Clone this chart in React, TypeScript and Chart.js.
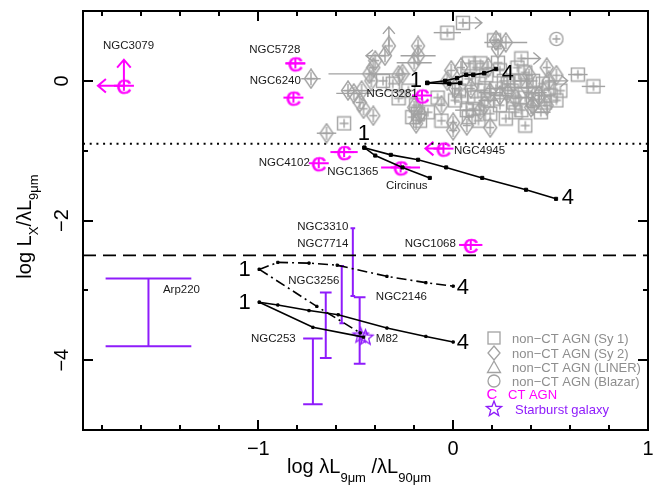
import React, { useEffect, useRef } from 'react';
import { Chart, registerables } from 'chart.js';

Chart.register(...registerables);

// ---------- axes ----------
const xRange = [-1.9, 1];
const yRange = [-5, 1];
const xMajorTicks = [-1, 0, 1];
const xMajorLabels = ['−1', '0', '1'];
const xMinorTicks = [-1.8, -1.6, -1.4, -1.2, -0.8, -0.6, -0.4, -0.2, 0.2, 0.4, 0.6, 0.8];
const yMajorTicks = [-4, -2, 0];
const yMajorLabels = ['−4', '−2', '0'];
const yMinorTicks = [-3, -1];

// ---------- reference lines ----------
const dottedLineY = -0.9;
const dashedLineY = -2.5;

// ---------- non-CT AGN (Sy 1) ----------
const sy1X = [0.05, -0.03, -0.36, -0.31, -0.56, -0.19, -0.18, -0.21, -0.17, -0.08, -0.28, -0.23, -0.13, 0.12, 0.33, 0.08, 0.13, 0.16, 0.11, 0.07, 0.08, 0.26, 0.31, 0.35, 0.41, 0.46, 0.24, 0.31, 0.37, 0.41, 0.37, 0.10, 0.21, 0.35, 0.64, 0.72, 0.50, 0.47, 0.08, 0.14, 0.23, 0.28, 0.18, 0.03, -0.06, 0.01, 0.55, 0.17, 0.22, 0.30, 0.35, 0.42, 0.49, 0.19, 0.13, 0.27, 0.32, 0.04, 0.45, 0.53, 0.24, 0.37];
const sy1Y = [0.83, 0.69, 0.00, -0.04, -0.61, -0.35, -0.47, -0.52, -0.57, -0.24, -0.25, -0.14, -0.45, 0.19, 0.19, 0.03, -0.04, -0.14, -0.24, -0.42, -0.52, 0.00, 0.00, 0.00, 0.00, -0.04, -0.35, -0.31, -0.24, -0.28, -0.64, -0.40, 0.58, 0.32, 0.09, -0.08, -0.21, -0.31, 0.25, 0.25, 0.26, -0.04, -0.28, -0.14, -0.57, -0.28, -0.14, 0.08, -0.11, -0.14, -0.42, -0.17, -0.11, -0.47, -0.57, -0.54, -0.45, -0.21, -0.45, -0.28, 0.15, 0.12];
const sy1Xerr = [0, 0.07, 0, 0, 0, 0, 0, 0, 0, 0, 0, 0, 0, 0, 0, 0, 0, 0, 0, 0.06, 0, 0, 0, 0.04, 0, 0, 0, 0, 0.05, 0, 0, 0, 0, 0, 0.05, 0.06, 0, 0, 0, 0, 0, 0, 0.05, 0, 0, 0, 0, 0, 0.05, 0, 0, 0.06, 0, 0, 0, 0, 0, 0, 0.05, 0, 0, 0];
const sy1Limit = ['r', '', '', '', '', '', '', '', '', '', '', '', '', '', '', '', '', '', '', '', '', '', '', '', '', '', '', '', '', '', '', '', '', 'r', '', '', '', '', '', '', '', '', '', '', '', '', '', '', '', '', '', '', '', '', '', '', '', '', '', '', '', ''];

// ---------- non-CT AGN (Sy 2) ----------
const sy2X = [-0.33, -0.35, -0.18, -0.18, -0.20, -0.40, -0.41, -0.43, -0.42, -0.28, -0.26, -0.54, -0.51, -0.48, -0.46, -0.73, -0.65, -0.20, -0.17, -0.19, 0.00, 0.00, 0.04, 0.18, 0.39, 0.01, -0.03, 0.19, 0.28, 0.38, 0.40, 0.19, 0.27, 0.23, 0.48, 0.49, 0.41, -0.01, 0.22, -0.41, -0.47, -0.06, 0.14, 0.09, 0.24, 0.32, 0.44, 0.48, 0.16, 0.07, 0.53];
const sy2Y = [0.50, 0.36, 0.50, 0.36, 0.26, 0.29, 0.19, 0.10, 0.00, 0.08, 0.10, -0.14, -0.18, -0.31, -0.40, 0.03, -0.75, -0.38, -0.47, -0.61, -0.60, -0.71, 0.19, 0.19, 0.08, -0.11, 0.00, -0.17, -0.18, -0.10, -0.38, -0.67, 0.55, 0.46, 0.19, 0.00, -0.35, 0.15, 0.58, -0.50, -0.14, -0.35, -0.42, -0.11, -0.21, -0.25, -0.21, -0.35, -0.35, -0.64, 0.08];
const sy2Xerr = [0, 0, 0, 0.09, 0.09, 0, 0, 0.21, 0, 0, 0, 0, 0.09, 0, 0, 0.05, 0.05, 0, 0, 0, 0, 0, 0, 0, 0, 0, 0, 0.06, 0, 0.07, 0, 0, 0.11, 0, 0, 0, 0, 0, 0, 0, 0.10, 0, 0, 0, 0.05, 0, 0, 0, 0, 0, 0];
const sy2Limit = ['u', 'l', '', '', '', '', '', '', '', '', '', '', '', '', '', '', '', '', '', '', '', '', '', '', '', '', '', '', '', '', '', '', '', '', '', 'r', '', '', '', '', '', '', '', '', '', '', '', '', '', '', ''];

// ---------- non-CT AGN (Blazar) ----------
const blzX = [0.53];
const blzY = [0.60];

// ---------- CT AGN ----------
const ctNames = ['NGC3079', 'NGC5728', 'NGC6240', 'NGC4102', 'NGC1365', 'Circinus', 'NGC4945', 'NGC3281', 'NGC1068'];
const ctX = [-1.69, -0.81, -0.82, -0.69, -0.56, -0.27, -0.05, -0.16, 0.09];
const ctY = [-0.07, 0.25, -0.24, -1.18, -1.02, -1.24, -0.97, -0.21, -2.35];
const ctXerr = [0, 0.05, 0, 0, 0.07, 0.10, 0, 0, 0.06];
const ctLimit = ['lu', '', '', '', '', '', 'l', '', ''];

// ---------- Starburst galaxies ----------
const sbNames = ['Arp220', 'NGC253', 'NGC3256', 'NGC3310', 'NGC7714', 'NGC2146'];
const sbX = [-1.564, -0.72, -0.654, -0.515, -0.572, -0.48];
const sbYLow = [-3.80, -4.63, -3.97, -3.08, -3.47, -4.05];
const sbYHigh = [-2.83, -3.69, -3.03, -2.11, -2.65, -3.10];
const sbXerr = [0.22, 0.05, 0.03, 0.012, 0.012, 0.03];
const starX = [-0.475, -0.45];
const starY = [-3.64, -3.67];

// ---------- model tracks ----------
const trackA1X = [-0.133, -0.02, 0.036];
const trackA1Y = [-0.03, -0.04, -0.03];
const trackA2X = [-0.133, -0.041, 0.02, 0.067, 0.103, 0.159, 0.22];
const trackA2Y = [-0.03, 0.0, 0.04, 0.086, 0.086, 0.11, 0.17];
const trackB1X = [-0.456, -0.40, -0.26, -0.12];
const trackB1Y = [-0.957, -1.07, -1.24, -1.39];
const trackB2X = [-0.456, -0.32, -0.18, -0.036, 0.149, 0.374, 0.528];
const trackB2Y = [-0.957, -1.06, -1.13, -1.24, -1.39, -1.56, -1.69];
const trackC1X = [-0.995, -0.90, -0.74, -0.595, -0.34, -0.14, 0.0];
const trackC1Y = [-2.70, -2.60, -2.61, -2.64, -2.80, -2.89, -2.94];
const trackC2X = [-0.995, -0.70, -0.477];
const trackC2Y = [-2.70, -3.23, -3.61];
const trackD1X = [-0.995, -0.90, -0.74, -0.59, -0.34, -0.14, 0.0];
const trackD1Y = [-3.17, -3.21, -3.29, -3.35, -3.54, -3.66, -3.74];
const trackD2X = [-0.995, -0.72, -0.46];
const trackD2Y = [-3.17, -3.53, -3.67];

// ---------- annotations ----------
const labelText = ['NGC3079', 'NGC5728', 'NGC6240', 'NGC4102', 'NGC1365', 'Circinus', 'NGC4945', 'NGC3281', 'NGC1068', 'NGC3310', 'NGC7714', 'NGC3256', 'NGC2146', 'Arp220', 'NGC253', 'M82'];
const labelX = [-1.666, -0.916, -0.782, -0.736, -0.515, -0.238, 0.004, -0.182, 0.014, -0.669, -0.669, -0.715, -0.397, -1.49, -0.808, -0.397];
const labelY = [0.504, 0.447, 0.0, -1.167, -1.296, -1.50, -0.996, -0.18, -2.34, -2.096, -2.34, -2.867, -3.096, -2.996, -3.696, -3.696];
const labelAlign = ['center', 'center', 'right', 'right', 'center', 'center', 'left', 'right', 'right', 'center', 'center', 'center', 'left', 'left', 'right', 'left'];

const trackLabelText = ['1', '4', '1', '4', '1', '1', '4', '4'];
const trackLabelX = [-0.192, 0.281, -0.459, 0.589, -1.07, -1.07, 0.05, 0.05];
const trackLabelY = [0.019, 0.119, -0.753, -1.667, -2.69, -3.167, -2.95, -3.74];

const legendLabels = ['non−CT AGN (Sy 1)', 'non−CT AGN (Sy 2)', 'non−CT AGN (LINER)', 'non−CT AGN (Blazar)', 'CT AGN', 'Starburst galaxy'];

// ---------- styles ----------
const GRAY = '#a2a2a2';
const MAGENTA = '#ff00ff';
const PURPLE = '#8f1cfb';
const FONT = '"Liberation Sans", Arial, Helvetica, sans-serif';

const pts = (xs: number[], ys: number[]) => xs.map((x, i) => ({ x, y: ys[i] }));

function mk(w: number, h: number, draw: (c: CanvasRenderingContext2D) => void) {
  const c = document.createElement('canvas');
  c.width = w;
  c.height = h;
  const ctx = c.getContext('2d')!;
  draw(ctx);
  return c;
}

function starPath(ctx: CanvasRenderingContext2D, cx: number, cy: number, ro: number, ri: number) {
  ctx.beginPath();
  for (let i = 0; i < 10; i++) {
    const r = i % 2 === 0 ? ro : ri;
    const a = -Math.PI / 2 + (i * Math.PI) / 5;
    const px = cx + r * Math.cos(a);
    const py = cy + r * Math.sin(a);
    if (i === 0) ctx.moveTo(px, py);
    else ctx.lineTo(px, py);
  }
  ctx.closePath();
}

function arrow(ctx: CanvasRenderingContext2D, x: number, y: number, dir: string, len: number, head: number) {
  const dx = dir === 'r' ? 1 : dir === 'l' ? -1 : 0;
  const dy = dir === 'u' ? -1 : dir === 'd' ? 1 : 0;
  const tx = x + dx * len;
  const ty = y + dy * len;
  const bx = tx - dx * head;
  const by = ty - dy * head;
  const ox = -dy * head * 0.85;
  const oy = dx * head * 0.85;
  ctx.beginPath();
  ctx.moveTo(x, y);
  ctx.lineTo(tx, ty);
  ctx.moveTo(bx + ox, by + oy);
  ctx.lineTo(tx, ty);
  ctx.lineTo(bx - ox, by - oy);
  ctx.stroke();
}

function drawRich(
  ctx: CanvasRenderingContext2D,
  parts: [string, boolean][],
  x: number,
  y: number,
  mainFont: string,
  subFont: string,
  subShift: number
) {
  ctx.textAlign = 'left';
  ctx.textBaseline = 'alphabetic';
  let total = 0;
  const widths = parts.map(([t, sub]) => {
    ctx.font = sub ? subFont : mainFont;
    const w = ctx.measureText(t).width;
    total += w;
    return w;
  });
  let cx = x - total / 2;
  parts.forEach(([t, sub], i) => {
    ctx.font = sub ? subFont : mainFont;
    ctx.fillText(t, cx, sub ? y + subShift : y);
    cx += widths[i];
  });
}

export default function App() {
  const ref = useRef<HTMLCanvasElement>(null);

  useEffect(() => {
    const canvas = ref.current!;

    const squareImg = mk(16, 16, (c) => {
      c.strokeStyle = GRAY;
      c.lineWidth = 1.4;
      c.strokeRect(1.5, 1.5, 13, 13);
      c.beginPath();
      c.moveTo(8, 3.5);
      c.lineTo(8, 12.5);
      c.moveTo(3.5, 8);
      c.lineTo(12.5, 8);
      c.stroke();
    });
    const diamondImg = mk(16, 21, (c) => {
      c.strokeStyle = GRAY;
      c.lineWidth = 1.4;
      c.beginPath();
      c.moveTo(8, 1);
      c.lineTo(14.5, 10.5);
      c.lineTo(8, 20);
      c.lineTo(1.5, 10.5);
      c.closePath();
      c.moveTo(8, 4);
      c.lineTo(8, 17);
      c.moveTo(4, 10.5);
      c.lineTo(12, 10.5);
      c.stroke();
    });
    const circleImg = mk(16, 16, (c) => {
      c.strokeStyle = GRAY;
      c.lineWidth = 1.4;
      c.beginPath();
      c.arc(8, 8, 6.6, 0, Math.PI * 2);
      c.moveTo(8, 4);
      c.lineTo(8, 12);
      c.moveTo(4, 8);
      c.lineTo(12, 8);
      c.stroke();
    });
    const cImg = mk(26, 22, (c) => {
      c.fillStyle = MAGENTA;
      c.strokeStyle = MAGENTA;
      c.font = '21px ' + FONT;
      c.textAlign = 'center';
      c.textBaseline = 'alphabetic';
      c.fillText('C', 13, 18.5);
      c.lineWidth = 0.6;
      c.strokeText('C', 13, 18.5);
      c.lineWidth = 2;
      c.beginPath();
      c.moveTo(3, 11);
      c.lineTo(23, 11);
      c.moveTo(13, 6);
      c.lineTo(13, 16);
      c.stroke();
    });
    const starImg = mk(19, 19, (c) => {
      c.strokeStyle = PURPLE;
      c.lineWidth = 1.3;
      starPath(c, 9.5, 10, 8, 3.4);
      c.stroke();
    });

    const custom = {
      id: 'custom',
      beforeDatasetsDraw(chart: any) {
        const { ctx, chartArea: a } = chart;
        const xs = chart.scales.x;
        const ys = chart.scales.y;
        ctx.save();
        ctx.beginPath();
        ctx.rect(a.left, a.top, a.right - a.left, a.bottom - a.top);
        ctx.clip();
        ctx.lineCap = 'butt';

        // gray x error bars + limit arrows
        ctx.strokeStyle = GRAY;
        ctx.lineWidth = 1.4;
        const grayGroups: [number[], number[], number[], string[]][] = [
          [sy1X, sy1Y, sy1Xerr, sy1Limit],
          [sy2X, sy2Y, sy2Xerr, sy2Limit],
        ];
        grayGroups.forEach(([gx, gy, ge, gl]) => {
          gx.forEach((v, i) => {
            const px = xs.getPixelForValue(v);
            const py = ys.getPixelForValue(gy[i]);
            if (ge[i] > 0) {
              ctx.beginPath();
              ctx.moveTo(xs.getPixelForValue(v - ge[i]), py);
              ctx.lineTo(xs.getPixelForValue(v + ge[i]), py);
              ctx.stroke();
            }
            for (const d of gl[i]) arrow(ctx, px, py, d, 19, 7);
          });
        });

        // CT AGN error bars + arrows
        ctx.strokeStyle = MAGENTA;
        ctx.lineWidth = 2;
        ctX.forEach((v, i) => {
          const px = xs.getPixelForValue(v);
          const py = ys.getPixelForValue(ctY[i]);
          if (ctXerr[i] > 0) {
            ctx.beginPath();
            ctx.moveTo(xs.getPixelForValue(v - ctXerr[i]), py);
            ctx.lineTo(xs.getPixelForValue(v + ctXerr[i]), py);
            ctx.stroke();
          }
          for (const d of ctLimit[i]) arrow(ctx, px, py, d, i === 0 ? 26 : 18, 8);
        });

        // starburst ranges
        ctx.strokeStyle = PURPLE;
        ctx.lineWidth = 2;
        sbX.forEach((v, i) => {
          const px = xs.getPixelForValue(v);
          const y1 = ys.getPixelForValue(sbYLow[i]);
          const y2 = ys.getPixelForValue(sbYHigh[i]);
          const l = xs.getPixelForValue(v - sbXerr[i]);
          const r = xs.getPixelForValue(v + sbXerr[i]);
          ctx.beginPath();
          ctx.moveTo(px, y1);
          ctx.lineTo(px, y2);
          ctx.moveTo(l, y1);
          ctx.lineTo(r, y1);
          ctx.moveTo(l, y2);
          ctx.lineTo(r, y2);
          ctx.stroke();
        });
        ctx.restore();
      },
      afterDatasetsDraw(chart: any) {
        const { ctx, chartArea: a } = chart;
        const xs = chart.scales.x;
        const ys = chart.scales.y;
        ctx.save();

        // object labels
        ctx.fillStyle = '#1a1a1a';
        ctx.font = '11.5px ' + FONT;
        ctx.textBaseline = 'middle';
        labelText.forEach((t, i) => {
          ctx.textAlign = labelAlign[i] as CanvasTextAlign;
          ctx.fillText(t, xs.getPixelForValue(labelX[i]), ys.getPixelForValue(labelY[i]));
        });

        // track labels
        ctx.fillStyle = '#000';
        ctx.font = '22px ' + FONT;
        ctx.textAlign = 'center';
        ctx.textBaseline = 'middle';
        trackLabelText.forEach((t, i) => {
          ctx.fillText(t, xs.getPixelForValue(trackLabelX[i]), ys.getPixelForValue(trackLabelY[i]) + 1);
        });

        // frame
        ctx.strokeStyle = '#000';
        ctx.lineWidth = 2;
        ctx.strokeRect(a.left, a.top, a.right - a.left, a.bottom - a.top);

        // ticks (inward, all four sides)
        ctx.beginPath();
        const xt = (vals: number[], len: number) =>
          vals.forEach((v) => {
            const p = Math.round(xs.getPixelForValue(v));
            ctx.moveTo(p, a.bottom);
            ctx.lineTo(p, a.bottom - len);
            ctx.moveTo(p, a.top);
            ctx.lineTo(p, a.top + len);
          });
        const yt = (vals: number[], len: number) =>
          vals.forEach((v) => {
            const p = Math.round(ys.getPixelForValue(v));
            ctx.moveTo(a.left, p);
            ctx.lineTo(a.left + len, p);
            ctx.moveTo(a.right, p);
            ctx.lineTo(a.right - len, p);
          });
        xt(xMajorTicks, 10);
        xt(xMinorTicks, 5);
        yt(yMajorTicks, 10);
        yt(yMinorTicks, 5);
        ctx.stroke();

        // tick labels
        ctx.fillStyle = '#000';
        ctx.font = '20px ' + FONT;
        ctx.textAlign = 'center';
        ctx.textBaseline = 'alphabetic';
        xMajorTicks.forEach((v, i) => {
          ctx.fillText(xMajorLabels[i], xs.getPixelForValue(v), a.bottom + 25);
        });
        yMajorTicks.forEach((v, i) => {
          ctx.save();
          ctx.translate(a.left - 21, ys.getPixelForValue(v));
          ctx.rotate(-Math.PI / 2);
          ctx.textBaseline = 'middle';
          ctx.fillText(yMajorLabels[i], 0, 0);
          ctx.restore();
        });

        // axis titles
        const mainF = '20px ' + FONT;
        const subF = '13px ' + FONT;
        drawRich(
          ctx,
          [['log λL', false], ['9μm', true], [' /λL', false], ['90μm', true]],
          359,
          a.bottom + 43,
          mainF,
          subF,
          9
        );
        ctx.save();
        ctx.translate(31, 226.5);
        ctx.rotate(-Math.PI / 2);
        drawRich(ctx, [['log L', false], ['X', true], ['/λL', false], ['9μm', true]], 0, 0, mainF, subF, 7);
        ctx.restore();

        // legend
        const lx = a.left + 411;
        const rows = [338, 353, 367, 381, 394, 409];
        ctx.strokeStyle = GRAY;
        ctx.lineWidth = 1.3;
        ctx.strokeRect(lx - 6, rows[0] - 6, 12, 12);
        ctx.beginPath();
        ctx.moveTo(lx, rows[1] - 7);
        ctx.lineTo(lx + 6, rows[1]);
        ctx.lineTo(lx, rows[1] + 7);
        ctx.lineTo(lx - 6, rows[1]);
        ctx.closePath();
        ctx.stroke();
        ctx.beginPath();
        ctx.moveTo(lx, rows[2] - 6);
        ctx.lineTo(lx + 6.5, rows[2] + 5.5);
        ctx.lineTo(lx - 6.5, rows[2] + 5.5);
        ctx.closePath();
        ctx.stroke();
        ctx.beginPath();
        ctx.arc(lx, rows[3], 6, 0, Math.PI * 2);
        ctx.stroke();
        ctx.fillStyle = MAGENTA;
        ctx.font = '15px ' + FONT;
        ctx.textAlign = 'center';
        ctx.textBaseline = 'middle';
        ctx.fillText('C', lx - 2, rows[4] + 1);
        ctx.strokeStyle = PURPLE;
        starPath(ctx, lx, rows[5], 8, 3.4);
        ctx.stroke();

        ctx.font = '13px ' + FONT;
        ctx.textAlign = 'left';
        ctx.textBaseline = 'middle';
        legendLabels.forEach((t, i) => {
          ctx.fillStyle = i < 4 ? '#8e8e8e' : i === 4 ? MAGENTA : PURPLE;
          const tx = i < 4 ? lx + 18 : i === 4 ? lx + 14 : lx + 21;
          ctx.fillText(t, tx, rows[i] + 1);
        });

        ctx.restore();
      },
    };

    const trackBase = {
      type: 'line' as const,
      showLine: true,
      borderColor: '#000',
      backgroundColor: '#000',
      borderWidth: 1.6,
      pointStyle: 'rect' as const,
      pointBackgroundColor: '#000',
      pointBorderColor: '#000',
      pointBorderWidth: 1,
      fill: false,
      tension: 0,
      order: 0,
    };

    const chart = new Chart(canvas, {
      type: 'scatter',
      data: {
        datasets: [
          { ...trackBase, data: pts(trackA1X, trackA1Y), pointRadius: 2.4 },
          { ...trackBase, data: pts(trackA2X, trackA2Y), pointRadius: 2.4 },
          { ...trackBase, data: pts(trackB1X, trackB1Y), pointRadius: 2.2 },
          { ...trackBase, data: pts(trackB2X, trackB2Y), pointRadius: 2.2 },
          { ...trackBase, data: pts(trackC1X, trackC1Y), pointRadius: 1.6, borderDash: [10, 4, 2, 4] },
          { ...trackBase, data: pts(trackC2X, trackC2Y), pointRadius: 1.6, borderDash: [10, 4, 2, 4] },
          { ...trackBase, data: pts(trackD1X, trackD1Y), pointRadius: 1.6 },
          { ...trackBase, data: pts(trackD2X, trackD2Y), pointRadius: 1.6 },
          { data: pts(ctX, ctY), pointStyle: cImg, pointRadius: 8, order: 1 },
          { data: pts(starX, starY), pointStyle: starImg, pointRadius: 8, order: 2 },
          { data: pts(blzX, blzY), pointStyle: circleImg, pointRadius: 8, order: 3 },
          { data: pts(sy1X, sy1Y), pointStyle: squareImg, pointRadius: 8, order: 4 },
          { data: pts(sy2X, sy2Y), pointStyle: diamondImg, pointRadius: 8, order: 5 },
          {
            type: 'line',
            data: [
              { x: xRange[0], y: dottedLineY },
              { x: xRange[1], y: dottedLineY },
            ],
            borderColor: '#000',
            borderWidth: 2,
            borderDash: [2, 4.7],
            pointRadius: 0,
            order: 6,
          },
          {
            type: 'line',
            data: [
              { x: xRange[0], y: dashedLineY },
              { x: xRange[1], y: dashedLineY },
            ],
            borderColor: '#000',
            borderWidth: 1.8,
            borderDash: [13, 7],
            pointRadius: 0,
            order: 6,
          },
        ] as any,
      },
      options: {
        animation: false,
        responsive: false,
        devicePixelRatio: 1,
        events: [],
        layout: { padding: { left: 83, top: 11, right: 10, bottom: 57 } },
        plugins: { legend: { display: false }, tooltip: { enabled: false }, title: { display: false } },
        scales: {
          x: { type: 'linear', min: xRange[0], max: xRange[1], display: false },
          y: { type: 'linear', min: yRange[0], max: yRange[1], display: false },
        },
      },
      plugins: [custom],
    });

    return () => chart.destroy();
  }, []);

  return (
    <div style={{ position: 'fixed', left: 0, top: 0, width: 658, height: 487, background: '#fff' }}>
      <canvas ref={ref} width={658} height={487} style={{ display: 'block', width: 658, height: 487 }} />
    </div>
  );
}
